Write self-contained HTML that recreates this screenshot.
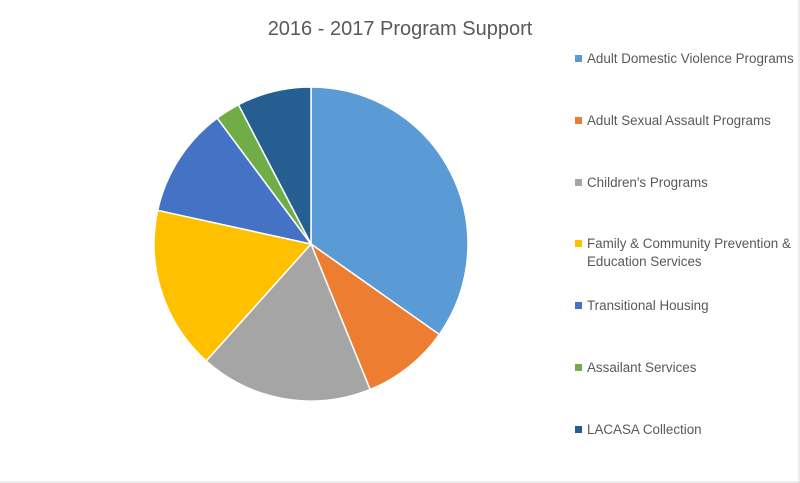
<!DOCTYPE html>
<html><head><meta charset="utf-8"><style>
body{margin:0;background:#fff;}
svg{display:block;font-family:"Liberation Sans",sans-serif;}
</style></head><body>
<svg width="800" height="483" viewBox="0 0 800 483">
<rect x="0" y="0" width="800" height="483" fill="#fff"/>
<line x1="799" y1="0" x2="799" y2="483" stroke="#d9d9d9"/>
<line x1="0" y1="482" x2="800" y2="482" stroke="#d9d9d9"/>
<text x="400" y="35" font-size="20" fill="#595959" text-anchor="middle">2016 - 2017 Program Support</text>
<g stroke="#fff" stroke-width="1.5" stroke-linejoin="round">
<path d="M311,244 L311,87 A157,157 0 0 1 439.3,334.5 Z" fill="#5B9BD5"/>
<path d="M311,244 L439.3,334.5 A157,157 0 0 1 370.1,389.5 Z" fill="#ED7D31"/>
<path d="M311,244 L370.1,389.5 A157,157 0 0 1 206.2,360.9 Z" fill="#A5A5A5"/>
<path d="M311,244 L206.2,360.9 A157,157 0 0 1 157.7,210.3 Z" fill="#FFC000"/>
<path d="M311,244 L157.7,210.3 A157,157 0 0 1 217.2,118.1 Z" fill="#4472C4"/>
<path d="M311,244 L217.2,118.1 A157,157 0 0 1 238.5,104.7 Z" fill="#70AD47"/>
<path d="M311,244 L238.5,104.7 A157,157 0 0 1 311,87 Z" fill="#255E91"/>
</g>
<g font-size="13.4" fill="#595959">
<rect x="575" y="55" width="7" height="7" fill="#5B9BD5"/><text x="587" y="63">Adult Domestic Violence Programs</text>
<rect x="575" y="117" width="7" height="7" fill="#ED7D31"/><text x="587" y="125">Adult Sexual Assault Programs</text>
<rect x="575" y="179" width="7" height="7" fill="#A5A5A5"/><text x="587" y="187">Children's Programs</text>
<rect x="575" y="240" width="7" height="7" fill="#FFC000"/><text x="587" y="248">Family &amp; Community Prevention &amp;</text><text x="587" y="266">Education Services</text>
<rect x="575" y="302" width="7" height="7" fill="#4472C4"/><text x="587" y="310">Transitional Housing</text>
<rect x="575" y="364" width="7" height="7" fill="#70AD47"/><text x="587" y="372">Assailant Services</text>
<rect x="575" y="426" width="7" height="7" fill="#255E91"/><text x="587" y="434">LACASA Collection</text>
</g>
</svg>
</body></html>
